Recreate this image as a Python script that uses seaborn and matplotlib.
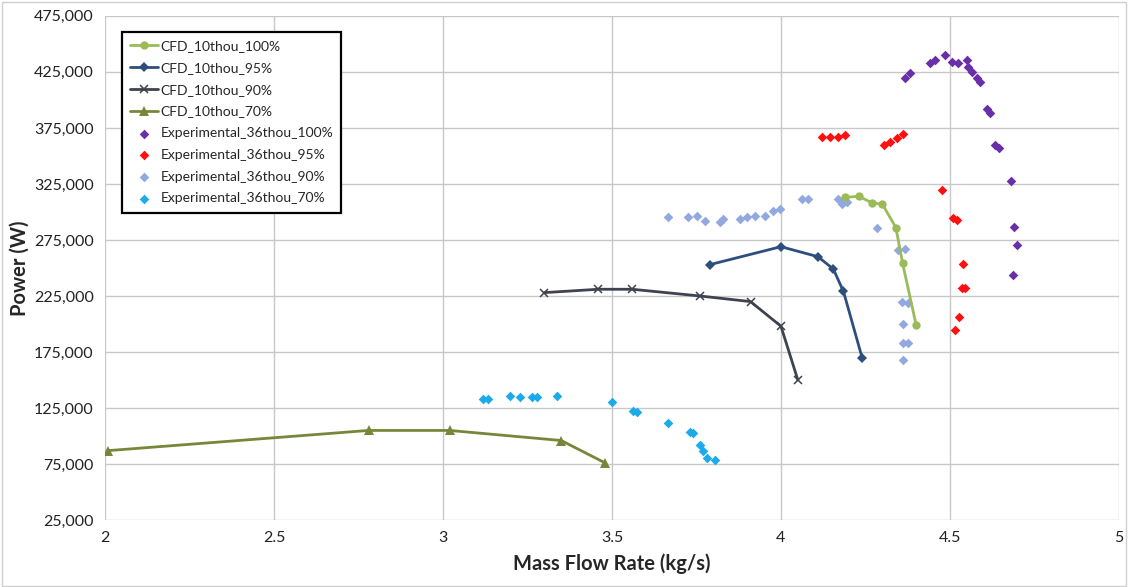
# CFD vs experimental turbine power over mass flow rate

import matplotlib
matplotlib.use("Agg")
import matplotlib.pyplot as plt
import seaborn as sns
from matplotlib.patches import Rectangle
from matplotlib.ticker import FuncFormatter, FixedLocator, MultipleLocator

# CFD runs (10 thou)
cfd100_x = [4.19, 4.23, 4.27, 4.30, 4.34, 4.36, 4.40]
cfd100_y = [313000, 314000, 308000, 307000, 286000, 254000, 199000]

cfd95_x = [3.79, 4.00, 4.11, 4.155, 4.185, 4.24]
cfd95_y = [253000, 269000, 260000, 249000, 229000, 170000]

cfd90_x = [3.30, 3.46, 3.56, 3.76, 3.91, 4.00, 4.05]
cfd90_y = [228000, 231000, 231000, 225000, 220000, 198000, 150000]

cfd70_x = [2.01, 2.78, 3.02, 3.35, 3.48]
cfd70_y = [87000, 105000, 105000, 96000, 76000]

# Experimental runs (36 thou)
exp100_x = [4.367, 4.382, 4.441, 4.456, 4.485, 4.506, 4.524, 4.550, 4.553, 4.565,
            4.580, 4.589, 4.610, 4.618, 4.633, 4.645, 4.680, 4.690, 4.698, 4.687]
exp100_y = [419600, 424100, 433000, 435700, 440200, 433900, 433000, 435700, 429500, 425000,
            419600, 416000, 392000, 388000, 360000, 357000, 328000, 287000, 270500, 244000]

exp95_x = [4.121, 4.145, 4.169, 4.189, 4.305, 4.322, 4.343, 4.361,
           4.476, 4.510, 4.520, 4.540, 4.535, 4.545, 4.527, 4.515]
exp95_y = [367000, 367000, 367000, 368700, 359800, 362500, 366000, 369600,
           319600, 294600, 293000, 253600, 232000, 232000, 206000, 195000]

exp90_x = [3.666, 3.725, 3.751, 3.775, 3.820, 3.828, 3.879, 3.900, 3.923, 3.953,
           3.976, 3.997, 4.062, 4.080, 4.169, 4.180, 4.195, 4.284, 4.346, 4.366,
           4.358, 4.376, 4.360, 4.360, 4.376, 4.360]
exp90_y = [295400, 295400, 296300, 291800, 290900, 293600, 293600, 295400, 296300, 296300,
           300700, 302500, 311400, 311400, 311400, 307000, 308800, 285700, 266000, 267000,
           219600, 218700, 200000, 183000, 183000, 168000]

exp70_x = [3.120, 3.133, 3.198, 3.228, 3.263, 3.278, 3.337, 3.500, 3.562, 3.574,
           3.666, 3.731, 3.740, 3.760, 3.770, 3.780, 3.805]
exp70_y = [133000, 133000, 135700, 135000, 134800, 134800, 135700, 130400, 122300, 121400,
           111600, 103600, 102700, 92000, 87000, 80000, 79000]

y_ticks = [25000, 75000, 125000, 175000, 225000, 275000, 325000, 375000, 425000, 475000]

sns.set_theme(style="whitegrid")
plt.rcParams['font.family'] = ['Lato', 'DejaVu Sans']

fig = plt.figure(figsize=(11.28, 5.87), dpi=100)
ax = fig.add_axes([0.093, 0.114, 0.899, 0.859])

# CFD lines
sns.lineplot(x=cfd100_x, y=cfd100_y, ax=ax, sort=False, estimator=None, color="#9BBB59",
             marker="o", markersize=6, markeredgewidth=0, linewidth=2, label="CFD_10thou_100%")
sns.lineplot(x=cfd95_x, y=cfd95_y, ax=ax, sort=False, estimator=None, color="#2E4F7E",
             marker="D", markersize=5.5, markeredgewidth=0, linewidth=2, label="CFD_10thou_95%")
sns.lineplot(x=cfd90_x, y=cfd90_y, ax=ax, sort=False, estimator=None, color="#3F4350",
             marker="x", markersize=6, markeredgewidth=1.1, markeredgecolor="#3F4350",
             linewidth=2, label="CFD_10thou_90%")
sns.lineplot(x=cfd70_x, y=cfd70_y, ax=ax, sort=False, estimator=None, color="#77873A",
             marker="^", markersize=7, markeredgewidth=0, linewidth=2, label="CFD_10thou_70%")

# experimental scatter
sns.scatterplot(x=exp100_x, y=exp100_y, ax=ax, color="#6A2FA8", marker="D", s=24,
                linewidth=0, label="Experimental_36thou_100%")
sns.scatterplot(x=exp95_x, y=exp95_y, ax=ax, color="#FF1010", marker="D", s=24,
                linewidth=0, label="Experimental_36thou_95%")
sns.scatterplot(x=exp90_x, y=exp90_y, ax=ax, color="#92A9E0", marker="D", s=24,
                linewidth=0, label="Experimental_36thou_90%")
sns.scatterplot(x=exp70_x, y=exp70_y, ax=ax, color="#1DAAEA", marker="D", s=24,
                linewidth=0, label="Experimental_36thou_70%")

ax.set_xlim(2, 5)
ax.set_ylim(25000, 475000)
ax.xaxis.set_major_locator(MultipleLocator(0.5))
ax.yaxis.set_major_locator(FixedLocator(y_ticks))
ax.xaxis.set_major_formatter(FuncFormatter(lambda v, p: f"{v:g}"))
ax.yaxis.set_major_formatter(FuncFormatter(lambda v, p: f"{int(v):,}"))
ax.tick_params(axis="both", labelsize=11.5, colors="#222222", length=0, pad=8)

ax.grid(True, color="#C8C8C8", linewidth=1)
ax.set_facecolor("white")
for s in ax.spines.values():
    s.set_visible(False)

ax.set_xlabel("Mass Flow Rate (kg/s)", fontsize=14.5, fontweight="bold", labelpad=6)
ax.set_ylabel("Power (W)", fontsize=14.5, fontweight="bold")
ax.yaxis.set_label_coords(-0.074, 0.5)

leg = ax.legend(loc="upper left", bbox_to_anchor=(0.017, 0.968), fontsize=10,
                frameon=True, fancybox=False, framealpha=1, edgecolor="black",
                handlelength=2.0, labelspacing=0.7, borderpad=0.6, handletextpad=0.15,
                borderaxespad=0)
leg.get_frame().set_linewidth(1.6)

# light frame round the whole picture
fig.patches.append(Rectangle((0.002, 0.002), 0.996, 0.995, transform=fig.transFigure,
                             fill=False, edgecolor="#D0D0D0", linewidth=1))

plt.savefig("out.png", dpi=100)
